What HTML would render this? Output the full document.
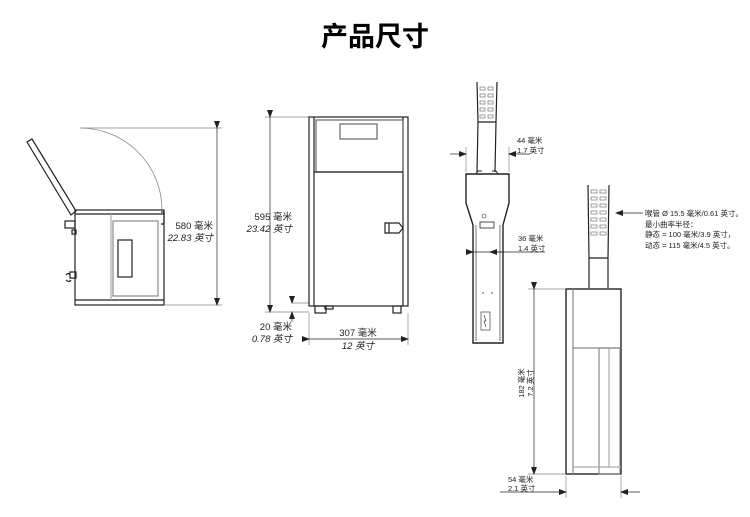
<!DOCTYPE html>
<html><head><meta charset="utf-8"><style>
html,body{margin:0;padding:0;background:#fff;}
svg{display:block;}
text{font-family:"Liberation Sans","Noto Sans CJK SC",sans-serif;fill:#222;}
</style></head><body>
<svg width="750" height="517" viewBox="0 0 750 517" xmlns="http://www.w3.org/2000/svg">
<defs>
<marker id="a" markerWidth="8" markerHeight="6" refX="7" refY="3" orient="auto" markerUnits="userSpaceOnUse"><path d="M0,0 L8,3 L0,6z" fill="#222"/></marker>
</defs>
<text x="375" y="46" text-anchor="middle" font-size="27" font-weight="bold" style="fill:#000">产品尺寸</text>

<!-- side view -->
<g stroke="#222" fill="none" stroke-width="1.2">
<path d="M80,128 A82,82 0 0 1 162,210" stroke="#888" stroke-width="0.8"/>
<path d="M27,142 L32,139 L76,211 L71,215 Z" fill="#fff"/>
<rect x="75" y="210" width="89" height="95"/>
<line x1="75" y1="300" x2="164" y2="300"/>
<line x1="75" y1="214" x2="164" y2="214"/>
<rect x="113" y="221" width="45" height="75" stroke="#888"/>
<line x1="111" y1="214" x2="111" y2="300" stroke="#aaa"/>
<rect x="118" y="240" width="14" height="37"/>
<rect x="65" y="221" width="10" height="7"/>
<rect x="72" y="230" width="4" height="4"/>
<path d="M70,272 h6 v6 h-6z M66,275 q3,-3 4,0 M66,280 q3,3 5,0"/>
<path d="M161,212 h3 v12 h-3"/>
</g>
<g stroke="#888" stroke-width="0.7">
<line x1="80" y1="128" x2="222" y2="128"/>
<line x1="164" y1="305" x2="222" y2="305"/>
<line x1="217" y1="128" x2="217" y2="305" stroke="#222" marker-start="url(#a)" marker-end="url(#a)"/>
</g>
<text x="213" y="229" text-anchor="end" font-size="9.5">580 毫米</text>
<text x="213" y="241" text-anchor="end" font-size="9.5" font-style="italic">22.83 英寸</text>

<!-- front view -->
<g stroke="#888" stroke-width="0.7">
<line x1="265" y1="117" x2="309" y2="117"/>
<line x1="265" y1="312" x2="309" y2="312"/>
<line x1="292" y1="303" x2="309" y2="303"/>
<line x1="270" y1="117" x2="270" y2="312" stroke="#222" marker-start="url(#a)" marker-end="url(#a)"/>
<line x1="292" y1="296" x2="292" y2="303" stroke="#222" marker-end="url(#a)"/>
<line x1="292" y1="322" x2="292" y2="312" stroke="#222" marker-end="url(#a)"/>
<line x1="309" y1="313" x2="309" y2="345"/>
<line x1="408" y1="313" x2="408" y2="345"/>
<line x1="309" y1="339" x2="408" y2="339" stroke="#222" marker-start="url(#a)" marker-end="url(#a)"/>
</g>
<text x="292" y="220" text-anchor="end" font-size="9.5">595 毫米</text>
<text x="292" y="232" text-anchor="end" font-size="9.5" font-style="italic">23.42 英寸</text>
<text x="292" y="330" text-anchor="end" font-size="9.5">20 毫米</text>
<text x="292" y="342" text-anchor="end" font-size="9.5" font-style="italic">0.78 英寸</text>
<text x="358" y="336" text-anchor="middle" font-size="9.5">307 毫米</text>
<text x="358" y="349" text-anchor="middle" font-size="9.5" font-style="italic">12 英寸</text>
<g stroke="#222" fill="none" stroke-width="1.2">
<rect x="309" y="117" width="99" height="189"/>
<line x1="314" y1="117" x2="314" y2="306"/>
<line x1="403" y1="117" x2="403" y2="306"/>
<rect x="316" y="120" width="87" height="52" stroke="#666"/>
<line x1="314" y1="172" x2="403" y2="172"/>
<rect x="340" y="124" width="37" height="15" stroke="#666"/>
<rect x="315" y="306" width="11" height="7"/>
<rect x="393" y="306" width="8" height="7"/>
<rect x="325" y="306" width="8" height="3"/>
<path d="M385,223 h14 l4,5 l-4,5 h-14z M389,223 v10"/>
</g>

<!-- hose top view -->
<g stroke="#222" fill="none" stroke-width="1.2">
<path d="M477,82 L478,122 L477,172 M497,82 L496,122 L495,172"/>
<path d="M478,122 h18"/>
<g stroke="#777" stroke-width="0.7">
<rect x="480" y="87" width="5" height="3"/><rect x="488" y="87" width="5" height="3"/>
<rect x="480" y="94" width="5" height="3"/><rect x="488" y="94" width="5" height="3"/>
<rect x="480" y="101" width="5" height="3"/><rect x="488" y="101" width="5" height="3"/>
<rect x="480" y="108" width="5" height="3"/><rect x="488" y="108" width="5" height="3"/>
<rect x="480" y="115" width="5" height="3"/><rect x="488" y="115" width="5" height="3"/>
</g>
<path d="M476,174 l2,-3 h4 M498,174 l-2,-3 h-4" stroke-width="1"/>
<path d="M466,174 H509 V203 L503,225 V343 H473 V225 L466,203 Z" stroke-width="1.4"/>
<line x1="476" y1="225" x2="476" y2="341" stroke="#888"/>
<line x1="500" y1="225" x2="500" y2="341" stroke="#888"/>
<rect x="480" y="222" width="14" height="6" stroke-width="0.8"/>
<circle cx="484" cy="216" r="2" stroke-width="0.6"/>
<rect x="481" y="312" width="9" height="18" stroke-width="0.6"/>
<path d="M484,315 l2,6 l-2,0 l2,6" stroke-width="0.6"/>
</g>
<circle cx="483" cy="293" r="0.8" fill="#444"/><circle cx="492" cy="293" r="0.8" fill="#444"/>
<g stroke="#888" stroke-width="0.7">
<line x1="466" y1="147" x2="466" y2="172"/><line x1="509" y1="147" x2="509" y2="172"/>
<line x1="450" y1="154" x2="466" y2="154" stroke="#222" marker-end="url(#a)"/>
<line x1="530" y1="154" x2="509" y2="154" stroke="#222" marker-end="url(#a)"/>
<line x1="473" y1="252" x2="545" y2="252" stroke="#222" marker-start="url(#a)"/>
<line x1="503" y1="252" x2="490" y2="252" stroke="#222" marker-end="url(#a)"/>
</g>
<text x="517" y="143" font-size="7.5">44 毫米</text>
<text x="517" y="153" font-size="7.5">1.7 英寸</text>
<text x="518" y="241" font-size="7.5">36 毫米</text>
<text x="518" y="251" font-size="7.5">1.4 英寸</text>

<!-- side right view -->
<g stroke="#222" fill="none" stroke-width="1.2">
<path d="M588,185 L589,258 L589,288 M609,185 L608,258 L608,288"/>
<path d="M589,258 h19"/>
<g stroke="#777" stroke-width="0.7">
<rect x="591" y="190" width="6" height="3"/><rect x="600" y="190" width="6" height="3"/>
<rect x="591" y="197" width="6" height="3"/><rect x="600" y="197" width="6" height="3"/>
<rect x="591" y="204" width="6" height="3"/><rect x="600" y="204" width="6" height="3"/>
<rect x="591" y="211" width="6" height="3"/><rect x="600" y="211" width="6" height="3"/>
<rect x="591" y="218" width="6" height="3"/><rect x="600" y="218" width="6" height="3"/>
<rect x="591" y="225" width="6" height="3"/><rect x="600" y="225" width="6" height="3"/>
<rect x="591" y="232" width="6" height="3"/><rect x="600" y="232" width="6" height="3"/>
</g>
<rect x="566" y="289" width="55" height="185" stroke-width="1.4"/>
<line x1="573" y1="289" x2="573" y2="474" stroke="#888"/>
<line x1="573" y1="348" x2="621" y2="348" stroke="#888"/>
<rect x="599" y="348" width="21" height="126" stroke="#888"/>
<line x1="609" y1="348" x2="609" y2="467" stroke="#aaa"/>
<line x1="573" y1="467" x2="621" y2="467" stroke="#aaa"/>
</g>
<g stroke="#888" stroke-width="0.7">
<line x1="528" y1="289" x2="566" y2="289"/>
<line x1="528" y1="474" x2="566" y2="474"/>
<line x1="534" y1="289" x2="534" y2="474" stroke="#222" marker-start="url(#a)" marker-end="url(#a)"/>
<line x1="566" y1="476" x2="566" y2="498"/><line x1="621" y1="476" x2="621" y2="498"/>
<line x1="540" y1="492" x2="566" y2="492" stroke="#222" marker-end="url(#a)"/>
<line x1="640" y1="492" x2="621" y2="492" stroke="#222" marker-end="url(#a)"/>
<line x1="500" y1="492" x2="540" y2="492" stroke="#222"/>
<line x1="643" y1="213" x2="616" y2="213" stroke="#222" marker-end="url(#a)"/>
</g>
<text transform="translate(524,383) rotate(-90)" text-anchor="middle" font-size="7.5">182 毫米</text>
<text transform="translate(533,383) rotate(-90)" text-anchor="middle" font-size="7.5">7.2 英寸</text>
<text x="508" y="482" font-size="7.5">54 毫米</text>
<text x="508" y="491" font-size="7.5">2.1 英寸</text>
<text x="645" y="216" font-size="7.5">喉管 Ø 15.5 毫米/0.61 英寸。</text>
<text x="645" y="227" font-size="7.5">最小曲率半径：</text>
<text x="645" y="237" font-size="7.5">静态 = 100 毫米/3.9 英寸，</text>
<text x="645" y="248" font-size="7.5">动态 = 115 毫米/4.5 英寸。</text>
</svg>
</body></html>
